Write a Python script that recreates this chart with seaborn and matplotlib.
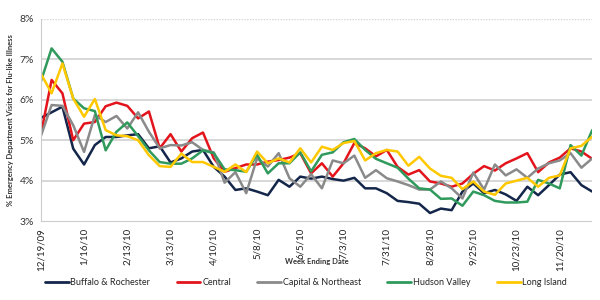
import pandas as pd
import matplotlib.pyplot as plt
import seaborn as sns

# weekly % of ED visits for flu-like illness, week ending 12/19/09 .. 12/11/10
start_week = '2009-12-19'
regions = ['Buffalo & Rochester', 'Central', 'Capital & Northeast', 'Hudson Valley', 'Long Island']
colors = ['#14264a', '#e3141b', '#8a8a8a', '#2f9a5c', '#ffc800']

buffalo = [5.55, 5.69, 5.83, 4.79, 4.40, 4.88, 5.08, 5.08, 5.12, 5.15, 4.80, 4.85, 4.45, 4.55, 4.72, 4.76,
           4.34, 4.10, 3.77, 3.81, 3.73, 3.64, 4.02, 3.85, 4.10, 4.05, 4.10, 4.04, 4.00, 4.07, 3.81, 3.81,
           3.69, 3.50, 3.47, 3.43, 3.20, 3.31, 3.27, 3.73, 3.93, 3.69, 3.77, 3.66, 3.50, 3.85, 3.64, 3.89,
           4.15, 4.21, 3.89, 3.73]
central = [5.14, 6.49, 6.16, 5.00, 5.41, 5.45, 5.84, 5.93, 5.85, 5.54, 5.71, 4.80, 5.15, 4.72, 5.05, 5.19,
           4.55, 4.22, 4.31, 4.40, 4.40, 4.47, 4.51, 4.57, 4.68, 4.18, 4.43, 4.10, 4.43, 4.93, 4.80, 4.60,
           4.76, 4.34, 4.15, 4.26, 3.98, 3.93, 3.85, 3.93, 4.17, 4.36, 4.25, 4.43, 4.55, 4.68, 4.21, 4.45,
           4.57, 4.80, 4.72, 4.54]
capital = [5.10, 5.87, 5.85, 5.37, 4.71, 5.62, 5.45, 5.60, 5.29, 5.69, 5.21, 4.80, 4.88, 4.87, 4.95, 4.76,
           4.70, 3.95, 4.21, 3.69, 4.55, 4.35, 4.68, 4.06, 3.85, 4.16, 3.81, 4.50, 4.43, 4.62, 4.07, 4.26,
           4.06, 3.98, 3.89, 3.78, 3.78, 3.98, 3.81, 3.56, 4.20, 3.78, 4.40, 4.13, 4.28, 4.07, 4.30, 4.43,
           4.50, 4.68, 4.32, 4.55]
hudson = [6.45, 7.27, 6.94, 6.03, 5.79, 5.72, 4.75, 5.21, 5.44, 5.10, 4.75, 4.46, 4.42, 4.42, 4.55, 4.75,
          4.68, 4.28, 4.26, 4.22, 4.64, 4.18, 4.43, 4.43, 4.70, 4.23, 4.64, 4.70, 4.95, 5.03, 4.76, 4.54,
          4.43, 4.32, 4.05, 3.81, 3.78, 3.55, 3.56, 3.38, 3.73, 3.64, 3.50, 3.46, 3.46, 3.48, 4.02, 3.93,
          3.81, 4.88, 4.62, 5.25]
long_island = [6.65, 6.16, 6.90, 6.03, 5.58, 6.02, 5.25, 5.12, 5.10, 5.00, 4.63, 4.36, 4.34, 4.67, 4.46, 4.46,
               4.34, 4.22, 4.40, 4.21, 4.72, 4.43, 4.55, 4.45, 4.80, 4.45, 4.84, 4.76, 4.93, 4.98, 4.50, 4.68,
               4.76, 4.72, 4.37, 4.59, 4.30, 4.12, 4.07, 3.79, 3.98, 3.73, 3.65, 3.93, 4.00, 4.07, 3.85, 4.07,
               4.13, 4.80, 4.86, 5.09]

weeks = pd.date_range(start_week, periods=len(buffalo), freq='7D')
df = pd.DataFrame({'week': weeks, 'Buffalo & Rochester': buffalo, 'Central': central,
                   'Capital & Northeast': capital, 'Hudson Valley': hudson, 'Long Island': long_island})
long_df = df.melt(id_vars='week', var_name='region', value_name='pct')

sns.set_style('white')
plt.rcParams['font.family'] = ['Lato', 'DejaVu Sans']

fig = plt.figure(figsize=(6, 3), dpi=100)
ax = fig.add_axes([0.068, 0.263, 0.919, 0.674])

for y in [4, 5, 6, 7]:
    ax.axhline(y, color='#d4d4d4', lw=1.3, zorder=0)
ax.axhline(8, color='#d4d4d4', lw=1.0, ls=(0, (1, 1)), zorder=0)

sns.lineplot(data=long_df, x='week', y='pct', hue='region', hue_order=regions,
             palette=colors, lw=1.8, ax=ax, legend=False)

ax.set_xlim(weeks[0], weeks[-1])
ax.set_ylim(3, 8)
ax.set_yticks([3, 4, 5, 6, 7, 8])
ax.set_yticklabels([f'{v}%' for v in range(3, 9)], fontsize=7.5, color='#333333')
ticks = weeks[::4]
ax.set_xticks(ticks)
ax.set_xticklabels([f'{d.month}/{d.day}/{d:%y}' for d in ticks], rotation=90, fontsize=7, color='#222222')
ax.tick_params(axis='x', length=3, color='#bbbbbb', pad=2)
ax.tick_params(axis='y', length=3, color='#bbbbbb', pad=2)

for s in ['top', 'right']:
    ax.spines[s].set_visible(False)
ax.spines['left'].set_color('#cccccc')
ax.spines['bottom'].set_color('#cccccc')
ax.spines['bottom'].set_linestyle((0, (1, 1)))

ax.set_xlabel('')
fig.text(0.528, 0.127, 'Week Ending Date', fontsize=5.5, fontweight='bold', color='#333333',
         ha='center', va='center')
ax.set_ylabel('% Emergency Department Visits for Flu-like Illness', fontsize=5.5, fontweight='bold',
              color='#333333', labelpad=4)

handles = [plt.Line2D([], [], color=c, lw=2) for c in colors]
fig.legend(handles, regions, loc='center', bbox_to_anchor=(0.51, 0.057), ncol=5, frameon=False,
           fontsize=6.5, handlelength=2.65, handletextpad=0.2, columnspacing=2.9)

fig.savefig('out.png', dpi=100)
